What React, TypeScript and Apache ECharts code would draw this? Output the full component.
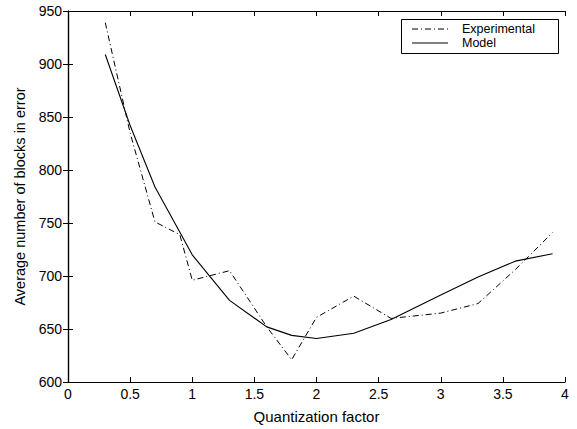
import React, { useEffect, useRef } from "react";
import * as echarts from "echarts";

const expX = [0.3, 0.5, 0.7, 0.9, 1.0, 1.3, 1.6, 1.8, 2.0, 2.3, 2.6, 3.0, 3.3, 3.6, 3.9];
const expY = [939, 835, 751, 739, 696, 705, 652, 621, 661, 681, 660, 665, 674, 706, 741];
const modelX = [0.3, 0.5, 0.7, 1.0, 1.3, 1.6, 1.8, 2.0, 2.3, 2.6, 3.0, 3.3, 3.6, 3.9];
const modelY = [909, 842, 784, 720, 677, 652, 644, 641, 646, 659, 682, 699, 714, 721];
const seriesNames = ["Experimental", "Model"];
const xTitle = "Quantization factor";
const yTitle = "Average number of blocks in error";

const FONT = "Liberation Sans, Arial, Helvetica, sans-serif";

export default function App() {
  const ref = useRef<HTMLDivElement>(null);
  useEffect(() => {
    if (!ref.current) return;
    const chart = echarts.init(ref.current, null, { renderer: "svg" });
    const axisLine = { show: true, lineStyle: { color: "#000", width: 1.2 } };
    const tick = { show: true, inside: true, length: 5, lineStyle: { color: "#000", width: 1 } };
    const label = { color: "#000", fontSize: 14, fontFamily: FONT };
    const dashDot = [6, 3, 1, 3];
    chart.setOption({
      animation: false,
      backgroundColor: "#fff",
      grid: { left: 68, right: 12, top: 11, bottom: 45 },
      xAxis: [
        {
          type: "value", min: 0, max: 4, interval: 0.5, position: "bottom",
          axisLine, axisTick: tick, splitLine: { show: false },
          axisLabel: { ...label, margin: 5 },
          name: xTitle, nameLocation: "middle", nameGap: 27,
          nameTextStyle: { color: "#000", fontSize: 15, fontFamily: FONT },
        },
        {
          type: "value", min: 0, max: 4, interval: 0.5, position: "top",
          axisLine, axisTick: tick, splitLine: { show: false }, axisLabel: { show: false },
        },
      ],
      yAxis: [
        {
          type: "value", min: 600, max: 950, interval: 50, position: "left",
          axisLine, axisTick: tick, splitLine: { show: false },
          axisLabel: { ...label, margin: 6 },
          name: yTitle, nameLocation: "middle", nameGap: 40, nameRotate: 90,
          nameTextStyle: { color: "#000", fontSize: 14.5, fontFamily: FONT },
        },
        {
          type: "value", min: 600, max: 950, interval: 50, position: "right",
          axisLine, axisTick: tick, splitLine: { show: false }, axisLabel: { show: false },
        },
      ],
      series: [
        {
          name: seriesNames[0], type: "line", xAxisIndex: 0, yAxisIndex: 0,
          data: expX.map((x, i) => [x, expY[i]]),
          showSymbol: false, symbol: "none",
          lineStyle: { color: "#000", width: 1, type: dashDot },
        },
        {
          name: seriesNames[1], type: "line", xAxisIndex: 0, yAxisIndex: 0,
          data: modelX.map((x, i) => [x, modelY[i]]),
          showSymbol: false, symbol: "none",
          lineStyle: { color: "#000", width: 1.1, type: "solid" },
        },
      ],
      graphic: [
        {
          type: "rect", left: 401, top: 19, z: 10,
          shape: { width: 157, height: 34 },
          style: { fill: "#fff", stroke: "#000", lineWidth: 1 },
        },
        {
          type: "line", z: 11,
          shape: { x1: 412, y1: 29, x2: 448, y2: 29 },
          style: { stroke: "#000", lineWidth: 1, lineDash: dashDot },
        },
        {
          type: "line", z: 11,
          shape: { x1: 412, y1: 43, x2: 448, y2: 43 },
          style: { stroke: "#000", lineWidth: 1 },
        },
        {
          type: "text", x: 462, y: 28.5, z: 11,
          style: { text: seriesNames[0], fill: "#000", fontSize: 12.5, fontFamily: FONT, verticalAlign: "middle", lineHeight: 12 },
        },
        {
          type: "text", x: 462, y: 42.5, z: 11,
          style: { text: seriesNames[1], fill: "#000", fontSize: 12.5, fontFamily: FONT, verticalAlign: "middle", lineHeight: 12 },
        },
      ],
    });
    return () => chart.dispose();
  }, []);
  return <div ref={ref} style={{ width: 577, height: 429, position: "absolute", left: 0, top: 0 }} />;
}
